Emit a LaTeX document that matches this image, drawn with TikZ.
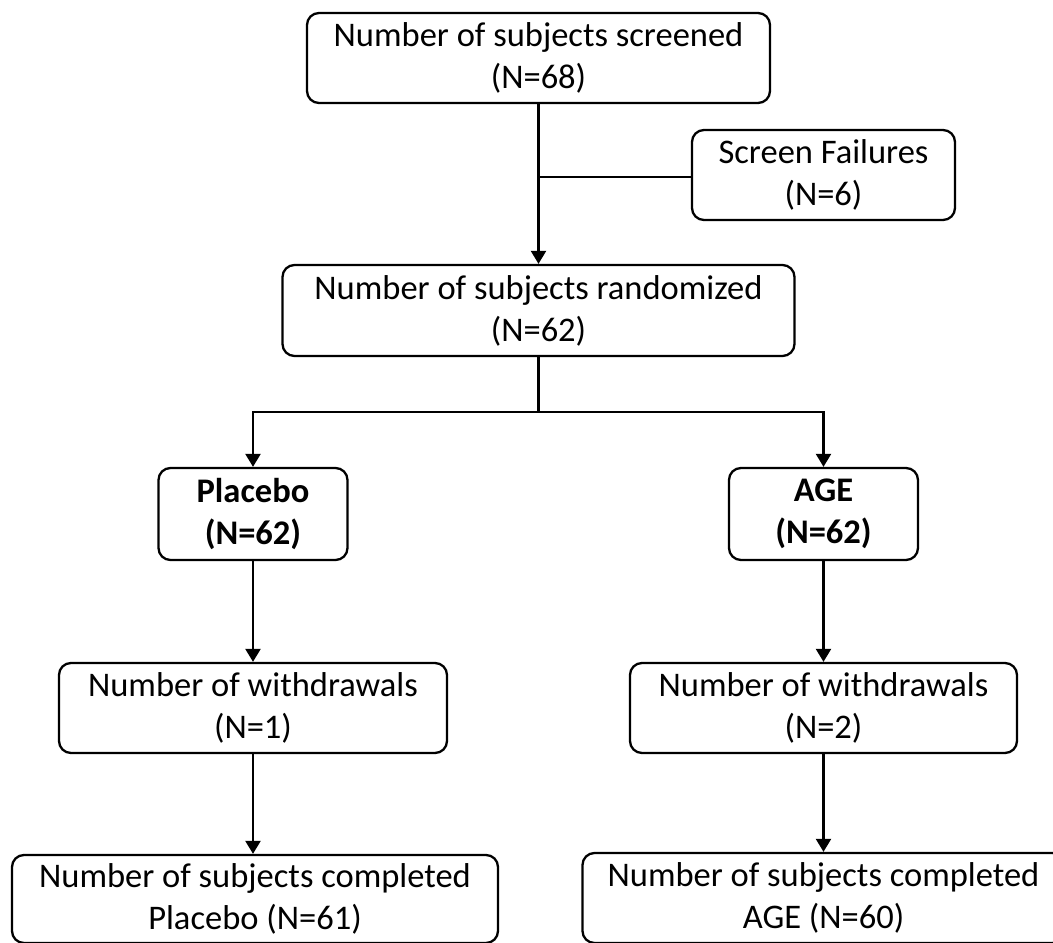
\documentclass[tikz,border=0pt]{standalone}
\usepackage{fontspec}
\setmainfont{Carlito}
\usetikzlibrary{arrows.meta}
\begin{document}
\begin{tikzpicture}[x=1pt,y=-1pt,
  flowbox/.style={draw=black, line width=2.3pt, rounded corners=12pt, align=center,
    inner sep=0pt, font=\fontsize{34.5}{42}\selectfont},
  conn/.style={draw=black, line width=2.3pt},
  arr/.style={conn, -{Triangle[length=13pt,width=15pt]}}]
\useasboundingbox (0,0) rectangle (1053,943);
\node[flowbox, minimum width=463pt, minimum height=90pt] (scr) at (538.5,58) {Number of subjects screened\\(N=68)};
\node[flowbox, minimum width=263pt, minimum height=90pt] (fail) at (823.5,175) {Screen Failures\\(N=6)};
\node[flowbox, minimum width=512pt, minimum height=91pt] (rand) at (538.5,310.5) {Number of subjects randomized\\(N=62)};
\node[flowbox, minimum width=189pt, minimum height=92pt, font=\fontsize{34.5}{42}\selectfont\bfseries] (plac) at (253,514) {Placebo\\(N=62)};
\node[flowbox, minimum width=189pt, minimum height=92pt, font=\fontsize{34.5}{42}\selectfont\bfseries] (age) at (823.5,514) {AGE\\(N=62)};
\node[flowbox, minimum width=388pt, minimum height=90pt] (wl) at (253,708) {Number of withdrawals\\(N=1)};
\node[flowbox, minimum width=387pt, minimum height=90pt] (wr) at (823.5,708) {Number of withdrawals\\(N=2)};
\node[flowbox, minimum width=486pt, minimum height=88pt] (cl) at (255,899) {Number of subjects completed\\Placebo (N=61)};
\node[flowbox, minimum width=482pt, minimum height=90pt] (cr) at (823.5,898) {Number of subjects completed\\AGE (N=60)};
\coordinate (jf) at (538.5,177);
\coordinate (split) at (538.5,412);
\draw[arr] (scr.south) -- (rand.north);
\draw[conn] (jf) -- (jf -| fail.west);
\draw[conn] (rand.south) -- (split);
\draw[arr] (split) -| (plac.north);
\draw[arr] (split) -| (age.north);
\draw[arr] (plac.south) -- (wl.north);
\draw[arr] (age.south) -- (wr.north);
\draw[arr] (wl.south) -- (wl.south |- cl.north);
\draw[arr] (wr.south) -- (cr.north);
\end{tikzpicture}
\end{document}
